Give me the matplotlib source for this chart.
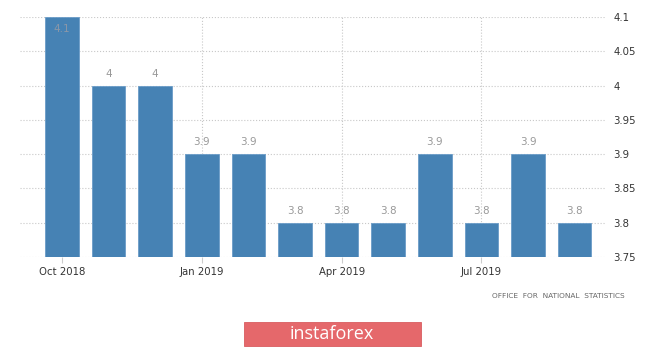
import matplotlib.pyplot as plt
from matplotlib.patches import FancyBboxPatch

months = ['Oct 2018', 'Nov 2018', 'Dec 2018', 'Jan 2019', 'Feb 2019', 'Mar 2019',
          'Apr 2019', 'May 2019', 'Jun 2019', 'Jul 2019', 'Aug 2019', 'Sep 2019']
values = [4.1, 4.0, 4.0, 3.9, 3.9, 3.8, 3.8, 3.8, 3.9, 3.8, 3.9, 3.8]
y_ticks = [3.75, 3.8, 3.85, 3.9, 3.95, 4.0, 4.05, 4.1]
x_tick_idx = [0, 3, 6, 9]

def fmt(v):
    return ('%.2f' % v).rstrip('0').rstrip('.')

fig = plt.figure(figsize=(6.65, 3.52), dpi=100)
ax = fig.add_axes([20 / 665, 95 / 352, 585 / 665, 240 / 352])

x = list(range(len(values)))
ax.bar(x, [v - 3.75 for v in values], bottom=3.75, width=0.72,
       color='#4682b4', edgecolor='#6a9cc8', linewidth=0.6, zorder=3)

ax.set_ylim(3.75, 4.1)
ax.set_xlim(-0.9, 11.65)

for i, v in enumerate(values):
    if v >= 4.1 - 1e-9:
        # top bar: label sits inside the bar
        ax.annotate(fmt(v), (i, v), xytext=(0, -5), textcoords='offset points',
                    ha='center', va='top', fontsize=7.5, color='#8a97a8', zorder=4)
    else:
        ax.annotate(fmt(v), (i, v), xytext=(0, 5), textcoords='offset points',
                    ha='center', va='bottom', fontsize=7.5, color='#999999', zorder=4)

ax.yaxis.tick_right()
ax.set_yticks(y_ticks)
ax.set_yticklabels([fmt(t) for t in y_ticks], fontsize=7.3, color='#333333')
ax.tick_params(axis='y', length=0, pad=6)

ax.set_xticks(x_tick_idx)
ax.set_xticklabels([months[i] for i in x_tick_idx], fontsize=7.3, color='#333333')
ax.tick_params(axis='x', length=4, color='#cccccc', pad=3)

ax.grid(True, axis='both', linestyle=':', color='#c8c8c8', linewidth=0.8, zorder=0)
for s in ax.spines.values():
    s.set_visible(False)

fig.text(625 / 665, 1 - 296 / 352, 'OFFICE  FOR  NATIONAL  STATISTICS',
         ha='right', va='center', fontsize=5.3, color='#666666')

btn = FancyBboxPatch((244 / 665, 1 - 346 / 352), 177 / 665, 24 / 352,
                     boxstyle='square,pad=0', transform=fig.transFigure,
                     facecolor='#e5686b', edgecolor='#d85c60', linewidth=0.6)
fig.patches.append(btn)
fig.text(332 / 665, 1 - 334 / 352, 'instaforex', ha='center', va='center',
         fontsize=13, color='white', family='Open Sans')

fig.savefig('out.png', dpi=100)
